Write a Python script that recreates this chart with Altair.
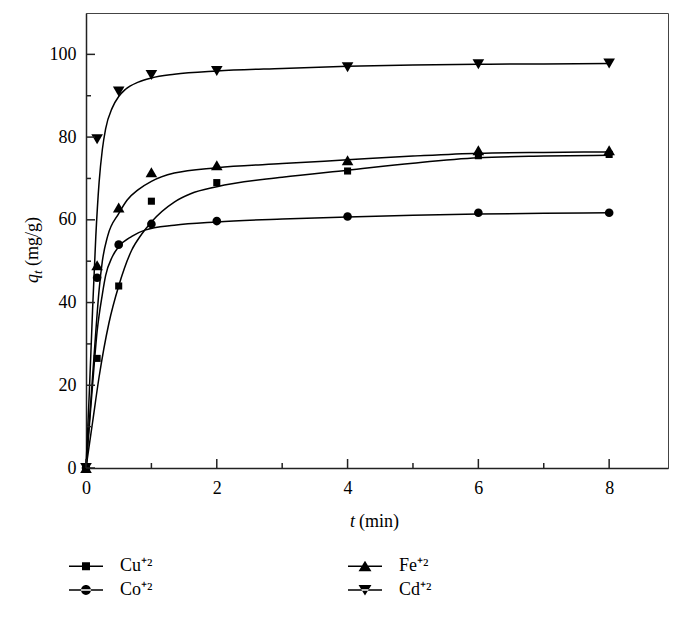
import altair as alt
import pandas as pd

# ---- data ----
ions = ["Cu⁺²", "Co⁺²", "Fe⁺²", "Cd⁺²"]

t_obs = [0, 0.17, 0.5, 1, 2, 4, 6, 8]
cu_obs = [0, 26.5, 44, 64.5, 69, 71.8, 75.5, 75.8]
co_obs = [0, 46, 54, 59, 59.7, 60.8, 61.7, 61.7]
fe_obs = [0, 49, 63, 71.5, 73.2, 74.4, 76.8, 76.8]
cd_obs = [0, 79.5, 91, 95, 96, 96.9, 97.6, 97.8]

cd_fit_t = [0, 0.05, 0.1, 0.15, 0.2, 0.25, 0.3, 0.4, 0.5, 0.6, 0.8, 1, 1.35, 2, 3, 4, 5, 6, 7, 8]
cd_fit_q = [0, 18, 38, 56, 69, 77, 82, 87, 89.8, 91.5, 93.3, 94.3, 95.2, 96, 96.6, 97.1, 97.4, 97.6, 97.7, 97.8]
fe_fit_t = [0, 0.05, 0.1, 0.15, 0.2, 0.25, 0.33, 0.5, 0.63, 0.8, 1, 1.35, 2, 3, 4, 5, 6, 7, 8]
fe_fit_q = [0, 11, 22, 33, 43, 50, 56, 61.5, 64.8, 67.3, 69.3, 71.3, 72.6, 73.6, 74.5, 75.4, 76.1, 76.3, 76.4]
co_fit_t = [0, 0.05, 0.1, 0.17, 0.25, 0.3, 0.4, 0.5, 0.7, 0.9, 1.35, 2, 3, 4, 5, 6, 7, 8]
co_fit_q = [0, 10, 20, 33, 42, 46.5, 51, 53.5, 56, 57.5, 58.7, 59.5, 60.2, 60.7, 61.1, 61.4, 61.6, 61.7]
cu_fit_t = [0, 0.1, 0.2, 0.35, 0.5, 0.7, 0.85, 1, 1.35, 1.6, 2, 3, 4, 5, 6, 7, 8]
cu_fit_q = [0, 11, 22, 35, 44, 52.7, 56.5, 59.5, 64.3, 66.3, 68, 70.3, 72, 73.7, 75, 75.4, 75.6]

x_major = [0, 2, 4, 6, 8]
x_minor = [1, 3, 5, 7]
y_major = [0, 20, 40, 60, 80, 100]
y_minor = [10, 30, 50, 70, 90]

# ---- tables ----
obs = {"Cu⁺²": cu_obs, "Co⁺²": co_obs, "Fe⁺²": fe_obs, "Cd⁺²": cd_obs}
pts = pd.DataFrame([{"t": t, "q": q, "ion": k} for k, v in obs.items() for t, q in zip(t_obs, v)])
fits = {"Cu⁺²": (cu_fit_t, cu_fit_q), "Co⁺²": (co_fit_t, co_fit_q),
        "Fe⁺²": (fe_fit_t, fe_fit_q), "Cd⁺²": (cd_fit_t, cd_fit_q)}
curves = pd.DataFrame([{"t": t, "q": q, "ion": k} for k, (tt, qq) in fits.items() for t, q in zip(tt, qq)])

W, H = 582, 455
FONT = "Liberation Serif"
xs = alt.Scale(domain=[0, 8.9], nice=False)
ys = alt.Scale(domain=[0, 110], nice=False)

x_axis = alt.Axis(values=x_major, ticks=False, grid=False, title=None, labelPadding=11, labelFlush=False)
y_axis = alt.Axis(values=y_major, ticks=False, grid=False, title=None, labelPadding=10, labelFlush=False)

lines = alt.Chart(curves).mark_line(color="black", strokeWidth=1.5, interpolate="monotone").encode(
    x=alt.X("t:Q", scale=xs, axis=x_axis),
    y=alt.Y("q:Q", scale=ys, axis=y_axis),
    detail="ion:N",
)

shape_of = {"Cu⁺²": ("square", 50), "Co⁺²": ("circle", 75), "Fe⁺²": ("triangle-up", 135), "Cd⁺²": ("triangle-down", 135)}
point_layers = [
    alt.Chart(pts).transform_filter(alt.datum.ion == k).mark_point(
        filled=True, color="black", opacity=1, shape=s, size=sz).encode(
        x=alt.X("t:Q", scale=xs, axis=x_axis),
        y=alt.Y("q:Q", scale=ys, axis=y_axis),
    )
    for k, (s, sz) in shape_of.items()
]

BAR = "M-2,-0.09H2V0.09H-2Z"
leg_paths = [
    BAR + "M-0.47,-0.47H0.47V0.47H-0.47Z",
    BAR + "M-0.58,0A0.58,0.58 0 1,0 0.58,0A0.58,0.58 0 1,0 -0.58,0Z",
    BAR + "M0,-0.66L0.76,0.58L-0.76,0.58Z",
    BAR + "M0,0.66L0.76,-0.58L-0.76,-0.58Z",
]
legend_layer = alt.Chart(pts).transform_filter("false").mark_point(
    filled=True, color="black", opacity=1).encode(
    x=alt.X("t:Q", scale=xs, axis=x_axis),
    y=alt.Y("q:Q", scale=ys, axis=y_axis),
    shape=alt.Shape("ion:N", scale=alt.Scale(domain=ions, range=leg_paths),
                    legend=alt.Legend(orient="none", legendX=-9.5, legendY=543.5, columns=2,
                                      columnPadding=192, rowPadding=5, symbolSize=289,
                                      labelOffset=24.5, labelFont=FONT, labelFontSize=18,
                                      labelColor="black", symbolFillColor="black",
                                      symbolOpacity=1, title=None, padding=0)),
)

def tick_rules(vals, axis, length):
    df = pd.DataFrame({"v": vals})
    if axis == "x":
        return alt.Chart(df).mark_rule(color="#222", strokeWidth=1.5).encode(
            x=alt.X("v:Q", scale=xs, axis=x_axis), y=alt.value(H), y2=alt.value(H - length))
    return alt.Chart(df).mark_rule(color="#222", strokeWidth=1.5).encode(
        y=alt.Y("v:Q", scale=ys, axis=y_axis), x=alt.value(0), x2=alt.value(length))

ticks = [tick_rules(x_major, "x", 9), tick_rules(x_minor, "x", 5),
         tick_rules(y_major, "y", 9), tick_rules(y_minor, "y", 5)]

def label(text, x, y, size=18, italic=False, align="left", angle=0, baseline="middle"):
    kw = dict(text=text, font=FONT, fontSize=size, color="black", align=align, baseline=baseline)
    if italic:
        kw["fontStyle"] = "italic"
    if angle:
        kw["angle"] = angle
    return alt.Chart(pd.DataFrame({"a": [0]})).mark_text(**kw).encode(x=alt.value(x), y=alt.value(y))

titles = [
    label("t", 269, 509, italic=True, align="right"),
    label("(min)", 273, 509),
    label("q", -53, 270, italic=True, angle=270),
    label("t", -48, 261, size=13, italic=True, angle=270),
    label("(mg/g)", -53, 253, angle=270),
]

chart = alt.layer(lines, *point_layers, legend_layer, *ticks, *titles).properties(
    width=W, height=H,
    autosize=alt.AutoSizeParams(type="pad"),
    padding={"left": 16, "top": 5, "right": 5, "bottom": 5},
).configure_view(stroke="#444", strokeWidth=1).configure_axis(
    labelFont=FONT, labelFontSize=18, labelColor="black",
    domainColor="#222", domainWidth=1.5,
)

chart.save("out.html", embed_options={"renderer": "svg", "actions": False})
